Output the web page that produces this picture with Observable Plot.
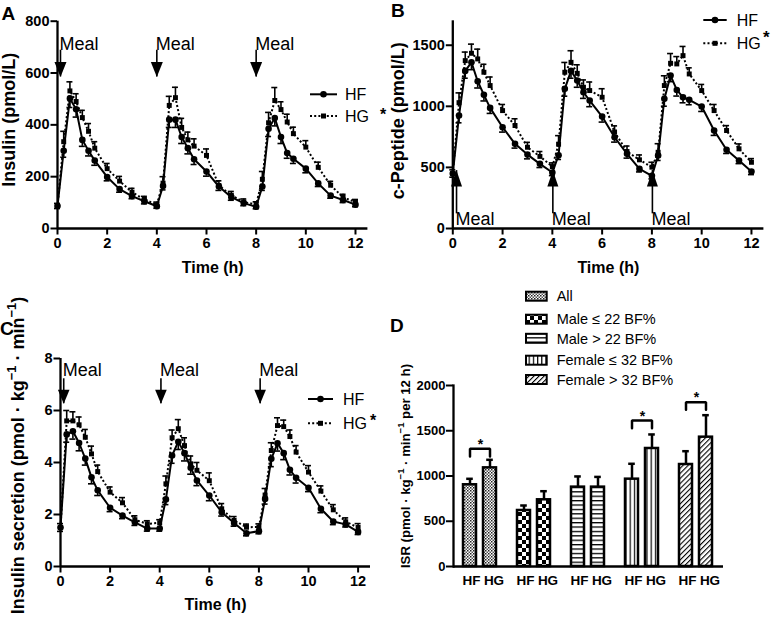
<!DOCTYPE html>
<html><head><meta charset="utf-8">
<script src="https://cdn.jsdelivr.net/npm/d3@7"></script>
<script src="https://cdn.jsdelivr.net/npm/@observablehq/plot@0.6"></script>
<style>
body{margin:0;background:#fff;}
#wrap{position:relative;width:774px;height:617px;overflow:hidden;background:#fff;}
</style></head><body><div id="wrap"></div>
<script>
// ---------- DATA ----------
const times = [0,0.25,0.5,0.75,1,1.25,1.5,2,2.5,3,3.5,4,4.25,4.5,4.75,5,5.25,5.5,6,6.5,7,7.5,8,8.25,8.5,8.75,9,9.25,9.5,10,10.5,11,11.5,12];
const xTicks = [0,2,4,6,8,10,12];
const conds = ["HF","HG"];
const mealLabel = "Meal";

const insulinHF = [87,300,502,460,342,300,262,199,152,125,105,86,164,420,420,353,310,267,220,162,121,98,84,162,385,426,353,291,269,231,174,127,110,92];
const insulinHG = [87,335,531,490,428,375,310,231,183,140,112,92,175,475,505,390,342,318,282,166,128,102,93,190,408,494,459,411,366,314,236,167,120,102];
const insulinHFErr = [10,25,35,30,25,20,18,15,12,10,10,8,15,30,30,25,22,20,18,15,12,10,8,15,30,30,25,20,18,16,12,10,10,8];
const insulinHGErr = [10,40,35,30,28,30,25,20,18,15,12,10,25,35,40,35,30,28,25,18,15,12,10,30,40,50,30,30,25,25,20,15,12,10];

const cpepHF = [450,925,1290,1360,1205,1094,987,829,693,605,529,458,600,1143,1290,1211,1115,1047,916,747,611,488,431,597,1061,1252,1134,1074,1053,998,802,644,556,466];
const cpepHG = [450,1030,1374,1434,1388,1279,1170,965,843,665,590,507,690,1279,1360,1270,1156,1129,1074,790,630,562,502,624,1170,1352,1347,1415,1265,1129,965,802,652,542];
const cpepHFErr = [30,60,60,60,55,50,45,40,35,35,30,25,35,60,60,55,50,50,45,40,35,25,25,40,60,50,50,45,40,40,40,30,25,25];
const cpepHGErr = [30,80,70,75,80,65,70,50,55,40,40,30,70,80,95,70,60,70,70,50,45,40,40,70,80,80,60,75,50,50,50,40,40,30];

const isrHF = [1.5,5.08,5.2,4.75,4.15,3.43,2.93,2.26,1.96,1.7,1.46,1.46,2.58,4.27,4.8,4.36,3.8,3.31,2.73,2.09,1.67,1.28,1.36,2.6,4.14,4.74,4.36,3.72,3.41,3.03,2.22,1.73,1.62,1.33];
const isrHG = [1.5,5.6,5.6,5.45,4.97,4.33,3.65,2.86,2.45,1.8,1.64,1.68,3.18,4.95,5.3,4.65,3.95,3.7,3.3,2.22,1.77,1.51,1.52,2.75,4.46,5.42,5.38,5.0,4.4,3.63,2.9,2.18,1.72,1.5];
const isrHFErr = [0.15,0.3,0.3,0.3,0.25,0.25,0.2,0.15,0.12,0.12,0.1,0.1,0.2,0.3,0.3,0.3,0.25,0.2,0.2,0.15,0.12,0.1,0.1,0.2,0.3,0.3,0.25,0.2,0.2,0.15,0.15,0.12,0.1,0.1];
const isrHGErr = [0.15,0.4,0.35,0.3,0.3,0.3,0.25,0.2,0.2,0.15,0.12,0.12,0.3,0.3,0.35,0.3,0.3,0.3,0.3,0.2,0.15,0.12,0.12,0.25,0.3,0.3,0.25,0.25,0.25,0.25,0.2,0.2,0.15,0.15];

const groups = ["All","Male ≤ 22 BF%","Male > 22 BF%","Female ≤ 32 BF%","Female > 32 BF%"];
const totalHF = [903,619,877,965,1127];
const totalHG = [1090,737,877,1304,1429];
const totalHFErr = [66,55,118,170,147];
const totalHGErr = [89,95,113,155,243];
const sigGroups = ["All","Female ≤ 32 BF%","Female > 32 BF%"];
const bracketY = [1300,1613,1816];
const bracketLeg = 85;

// ---------- HELPERS ----------
const FONT = '"Liberation Sans", Arial, Helvetica, sans-serif';
const wrap = document.getElementById("wrap");
const baseStyle = {fontFamily: FONT, fontSize: "14.5px", fontWeight: "bold", background: "none", overflow: "visible", color: "black"};
const plain = d3.format("d");

function place(svg, left, top) {
  svg.style.position = "absolute"; svg.style.left = left + "px"; svg.style.top = top + "px";
  svg.style.maxWidth = "none";
  wrap.appendChild(svg);
}
function supify(svg) {
  d3.select(svg).selectAll("text").each(function () {
    const s = this.textContent;
    if (!s.includes("^")) return;
    const fs = parseFloat(getComputedStyle(this).fontSize) || 16;
    const sh = fs * 0.42;
    const parts = s.split(/(\^[^\s)]+)/).filter(p => p !== "");
    const el = d3.select(this); el.text(null);
    let raised = false;
    for (const p of parts) {
      if (p[0] === "^") { el.append("tspan").attr("dy", -sh).attr("font-size", fs * 0.72).text(p.slice(1)); raised = true; }
      else { const t = el.append("tspan").text(p); if (raised) { t.attr("dy", sh); raised = false; } }
    }
  });
}
function letter(svg, ch, x, y) {
  d3.select(svg).append("text").attr("x", x).attr("y", y).attr("font-family", FONT).attr("text-anchor", "start")
    .attr("font-size", 19).attr("font-weight", "bold").text(ch);
}
function lineLegend(svg, L) {
  const g = d3.select(svg).append("g").attr("font-family", FONT).attr("font-size", 16).attr("font-weight", "normal").attr("text-anchor", "start");
  const mx = (L.x0 + L.x1) / 2;
  g.append("line").attr("x1", L.x0).attr("x2", L.x1).attr("y1", L.y1).attr("y2", L.y1).attr("stroke", "black").attr("stroke-width", 2);
  g.append("circle").attr("cx", mx).attr("cy", L.y1).attr("r", 3.3);
  g.append("text").attr("x", L.tx).attr("y", L.y1 + 5.8).text(conds[0]);
  g.append("line").attr("x1", L.x0).attr("x2", L.x1).attr("y1", L.y2).attr("y2", L.y2).attr("stroke", "black").attr("stroke-width", 2).attr("stroke-dasharray", "2,2.2");
  g.append("rect").attr("x", mx - 2.5).attr("y", L.y2 - 2.5).attr("width", 5).attr("height", 5);
  g.append("text").attr("x", L.tx).attr("y", L.y2 + 5.8).text(conds[1]);
  g.append("text").attr("x", L.sx).attr("y", L.y2 + 5.8 - L.raise).attr("font-weight", "bold").attr("font-size", L.sfs || 16).text("*");
}

const triDown = {draw(c) { c.moveTo(0, 0); c.lineTo(-6, -15); c.lineTo(6, -15); c.closePath(); }};
const triUp = {draw(c) { c.moveTo(0, 0); c.lineTo(-5.5, 16); c.lineTo(5.5, 16); c.closePath(); }};
const triDownC = {draw(c) { c.moveTo(0, 0); c.lineTo(-5.8, -14); c.lineTo(5.8, -14); c.closePath(); }};

function linePanel(c) {
  const hf = times.map((t, i) => ({t, v: c.hf[i], e: c.hfErr[i]}));
  const hg = times.map((t, i) => ({t, v: c.hg[i], e: c.hgErr[i]}));
  const svg = Plot.plot({
    width: c.width, height: c.height,
    marginLeft: c.ml, marginRight: c.mr, marginTop: c.mt, marginBottom: c.mb,
    x: {domain: [0, 12.5]},
    y: {domain: c.yDomain},
    style: baseStyle,
    marks: [
      Plot.ruleX(hf, {x: "t", y1: "v", y2: d => d.v - d.e, strokeWidth: 1.6}),
      Plot.ruleY(hf, {y: d => d.v - d.e, x1: "t", x2: "t", insetLeft: -3, insetRight: -3, strokeWidth: 1.6}),
      Plot.ruleX(hg, {x: "t", y1: "v", y2: d => d.v + d.e, strokeWidth: 1.6}),
      Plot.ruleY(hg, {y: d => d.v + d.e, x1: "t", x2: "t", insetLeft: -3, insetRight: -3, strokeWidth: 1.6}),
      Plot.line(hg, {x: "t", y: "v", strokeWidth: 2, strokeDasharray: "2,2.2", strokeLinecap: "butt", strokeLinejoin: "miter"}),
      Plot.line(hf, {x: "t", y: "v", strokeWidth: 2}),
      Plot.dot(hg, {x: "t", y: "v", symbol: "square", r: 2.8, fill: "black"}),
      Plot.dot(hf, {x: "t", y: "v", r: 3.3, fill: "black"}),
      Plot.ruleX(c.mealX, {x: d => d, y1: c.shaftEnd, y2: c.tipY, strokeWidth: 1.6}),
      Plot.dot(c.mealX, {x: d => d, y: c.tipY, symbol: c.tri, fill: "black", stroke: "none", r: 5}),
      Plot.text(c.mealX, {x: d => d, y: c.labelY, text: () => mealLabel, textAnchor: "start", lineAnchor: "bottom", fontSize: 18, fontWeight: "normal", dx: -1}),
      Plot.axisX({ticks: xTicks, tickSize: 6.5, tickPadding: 2.5, strokeWidth: 2, fontSize: 14.5, label: null, tickFormat: plain}),
      Plot.axisY({ticks: c.yTicks, tickSize: 6.5, tickPadding: 1.5, strokeWidth: 2, fontSize: 14.5, label: null, tickFormat: plain}),
      Plot.ruleX([0], {strokeWidth: 2.3}),
      Plot.ruleY([0], {strokeWidth: 2.3}),
      Plot.text([c.xLabel], {text: d => d, frameAnchor: "bottom", textAnchor: "middle", dy: c.xLabelDy, lineAnchor: "bottom", fontSize: 16}),
      Plot.text([c.yLabel], {text: d => d, frameAnchor: "left", textAnchor: "middle", lineAnchor: "middle", dx: c.yLabelDx, dy: c.yLabelDy, rotate: -90, fontSize: 18})
    ]
  });
  place(svg, c.left, c.top);
  supify(svg);
  letter(svg, c.letter, c.lx, c.ly);
  lineLegend(svg, c.legend);
  return svg;
}

// ---------- PANEL A ----------
linePanel({
  left: 0, top: 0, width: 390, height: 300, ml: 57, mr: 22.6, mt: 20.7, mb: 72,
  yDomain: [0, 800], yTicks: [0, 200, 400, 600, 800],
  hf: insulinHF, hg: insulinHG, hfErr: insulinHFErr, hgErr: insulinHGErr,
  mealX: [0.12, 4, 8], shaftEnd: 688, tipY: 585, labelY: 688, tri: triDown,
  xLabel: "Time (h)", xLabelDy: 44, yLabel: "Insulin (pmol/L)", yLabelDx: -48.5, yLabelDy: -5,
  letter: "A", lx: 1.5, ly: 20,
  legend: {x0: 310, x1: 337, y1: 94.3, y2: 116, tx: 345, sx: 380, raise: 2}
});

// ---------- PANEL B ----------
linePanel({
  left: 390, top: 0, width: 384, height: 300, ml: 62.3, mr: 10.6, mt: 20.3, mb: 72,
  yDomain: [0, 1700], yTicks: [0, 500, 1000, 1500],
  hf: cpepHF, hg: cpepHG, hfErr: cpepHFErr, hgErr: cpepHGErr,
  mealX: [0.15, 4.02, 8.02], shaftEnd: 120, tipY: 474, labelY: 25, tri: triUp,
  xLabel: "Time (h)", xLabelDy: 44, yLabel: "c-Peptide (pmol/L)", yLabelDx: -54.3, yLabelDy: -4,
  letter: "B", lx: 1, ly: 16.7,
  legend: {x0: 313.3, x1: 336.7, y1: 20, y2: 43.3, tx: 346.7, sx: 373, raise: 6, sfs: 17}
});

// ---------- PANEL C ----------
linePanel({
  left: 0, top: 300, width: 390, height: 317, ml: 60, mr: 20, mt: 58, mb: 51,
  yDomain: [0, 8], yTicks: [0, 2, 4, 6, 8],
  hf: isrHF, hg: isrHG, hfErr: isrHFErr, hgErr: isrHGErr,
  mealX: [0.13, 4.05, 8.05], shaftEnd: 7.22, tipY: 6.26, labelY: 7.31, tri: triDownC,
  xLabel: "Time (h)", xLabelDy: 43, yLabel: "Insulin secretion (pmol · kg^−1 · min^−1)", yLabelDx: -42.5, yLabelDy: -7,
  letter: "C", lx: 0, ly: 35,
  legend: {x0: 308, x1: 333, y1: 99, y2: 123.3, tx: 343, sx: 370, raise: 3}
});

// ---------- PANEL D ----------
const barRows = groups.flatMap((g, i) => [
  {group: g, cond: conds[0], v: totalHF[i], e: totalHFErr[i], pat: i},
  {group: g, cond: conds[1], v: totalHG[i], e: totalHGErr[i], pat: i}
]);
const bracketRows = sigGroups.flatMap((g, k) => [
  {group: g, cond: conds[0], y: bracketY[k] - bracketLeg},
  {group: g, cond: conds[0], y: bracketY[k]},
  {group: g, cond: conds[1], y: bracketY[k]},
  {group: g, cond: conds[1], y: bracketY[k] - bracketLeg}
]);
const starRows = sigGroups.map((g, k) => ({group: g, y: bracketY[k]}));

const svgD = Plot.plot({
  width: 384, height: 337, marginLeft: 61, marginRight: 50, marginTop: 105, marginBottom: 51,
  fx: {domain: groups, paddingInner: 0, paddingOuter: 0, axis: null, label: null},
  x: {domain: conds, paddingInner: 0.338, paddingOuter: 0.507},
  y: {domain: [0, 2000]},
  color: {type: "identity"},
  style: baseStyle,
  marks: [
    Plot.barY(barRows, {fx: "group", x: "cond", y: "v", fill: d => `url(#pat${d.pat})`, stroke: "black", strokeWidth: 2.5}),
    Plot.ruleX(barRows, {fx: "group", x: "cond", y1: "v", y2: d => d.v + d.e, strokeWidth: 2.5}),
    Plot.tickY(barRows, {fx: "group", x: "cond", y: d => d.v + d.e, insetLeft: 3.2, insetRight: 3.2, strokeWidth: 2.5}),
    Plot.line(bracketRows, {fx: "group", x: "cond", y: "y", z: "group", strokeWidth: 2.5, strokeLinejoin: "miter"}),
    Plot.text(starRows, {fx: "group", y: "y", text: () => "*", frameAnchor: "middle", textAnchor: "middle", lineAnchor: "bottom", fontSize: 14}),
    Plot.ruleY([0], {strokeWidth: 2.5}),
    Plot.frame({anchor: "left", facetAnchor: "left", strokeWidth: 2.3}),
    Plot.axisY({ticks: [0, 500, 1000, 1500, 2000], tickSize: 7, tickPadding: 1, strokeWidth: 2, fontSize: 13, label: null, tickFormat: plain}),
    Plot.axisX({ticks: [conds[0]], tickSize: 0, tickPadding: 9, fontSize: 13.5, dx: 1.5, label: null}),
    Plot.axisX({ticks: [conds[1]], tickSize: 0, tickPadding: 9, fontSize: 13.5, dx: 4, label: null}),
    Plot.text(["ISR (pmol · kg^−1 · min^−1 per 12 h)"], {text: d => d, frameAnchor: "left", textAnchor: "middle", lineAnchor: "middle", dx: -48, dy: -10, rotate: -90, fontSize: 13.2, facetAnchor: "left"})
  ]
});
place(svgD, 390, 280);
supify(svgD);
letter(svgD, "D", 0, 51.7);

// patterns
(function () {
  const defs = d3.select(svgD).insert("defs", ":first-child");
  let p;
  p = defs.append("pattern").attr("id", "pat0").attr("patternUnits", "userSpaceOnUse").attr("width", 3).attr("height", 3);
  p.append("rect").attr("width", 3).attr("height", 3).attr("fill", "white");
  p.append("rect").attr("width", 1.5).attr("height", 1.5).attr("fill", "#222");
  p.append("rect").attr("x", 1.5).attr("y", 1.5).attr("width", 1.5).attr("height", 1.5).attr("fill", "#555");
  p = defs.append("pattern").attr("id", "pat1").attr("patternUnits", "userSpaceOnUse").attr("width", 8).attr("height", 8);
  p.append("rect").attr("width", 8).attr("height", 8).attr("fill", "white");
  p.append("rect").attr("width", 4).attr("height", 4).attr("fill", "black");
  p.append("rect").attr("x", 4).attr("y", 4).attr("width", 4).attr("height", 4).attr("fill", "black");
  p = defs.append("pattern").attr("id", "pat2").attr("patternUnits", "userSpaceOnUse").attr("width", 6).attr("height", 4.4);
  p.append("rect").attr("width", 6).attr("height", 4.4).attr("fill", "white");
  p.append("rect").attr("width", 6).attr("height", 1.3).attr("fill", "black");
  p = defs.append("pattern").attr("id", "pat3").attr("patternUnits", "userSpaceOnUse").attr("width", 4.2).attr("height", 6);
  p.append("rect").attr("width", 4.2).attr("height", 6).attr("fill", "white");
  p.append("rect").attr("width", 1.2).attr("height", 6).attr("fill", "black");
  p = defs.append("pattern").attr("id", "pat4").attr("patternUnits", "userSpaceOnUse").attr("width", 3.6).attr("height", 6).attr("patternTransform", "rotate(45)");
  p.append("rect").attr("width", 3.6).attr("height", 6).attr("fill", "white");
  p.append("rect").attr("width", 1.1).attr("height", 6).attr("fill", "black");
})();

// legend D
(function () {
  const rowY = [16.2, 39.2, 58.3, 80.2, 99.5];
  const lg = d3.select(svgD).append("g").attr("font-family", FONT).attr("font-size", 14.5).attr("font-weight", "normal").attr("text-anchor", "start");
  groups.forEach((g, i) => {
    lg.append("rect").attr("x", 136).attr("y", rowY[i] - 4.5).attr("width", 20.7).attr("height", 9)
      .attr("fill", `url(#pat${i})`).attr("stroke", "black").attr("stroke-width", 2);
    lg.append("text").attr("x", 166.7).attr("y", rowY[i] + 5.2).text(g);
  });
})();
</script></body></html>
